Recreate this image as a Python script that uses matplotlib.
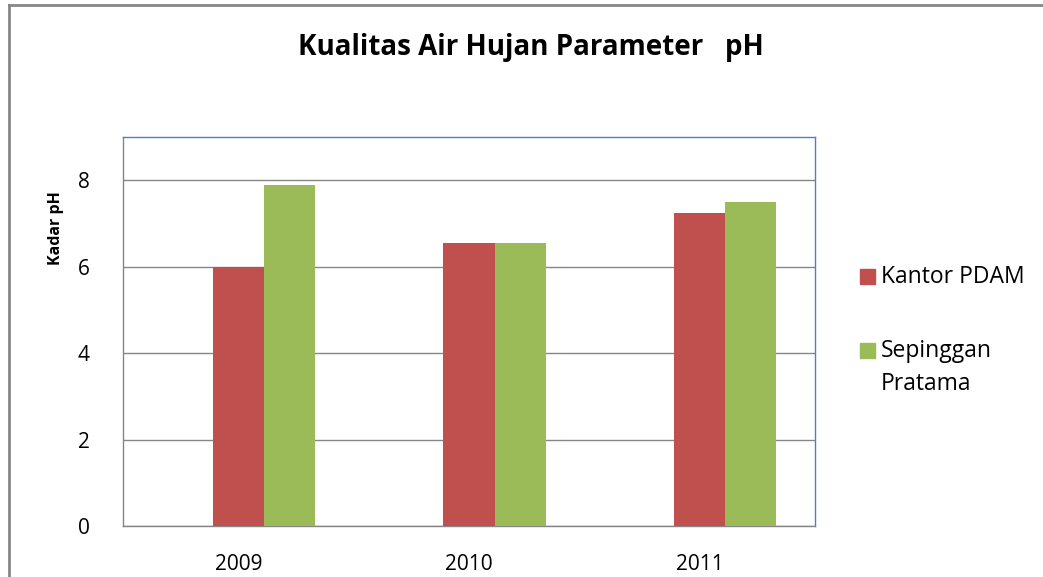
import matplotlib
matplotlib.use("Agg")
import matplotlib.pyplot as plt
from matplotlib.lines import Line2D
from matplotlib.patches import Rectangle
import numpy as np

years = ["2009", "2010", "2011"]
kantor_pdam = [6.0, 6.55, 7.25]
sepinggan = [7.9, 6.55, 7.5]
series_labels = ["Kantor PDAM", "Sepinggan\nPratama"]
yticks = [0, 2, 4, 6, 8]

plt.rcParams['font.family'] = ['Open Sans', 'DejaVu Sans']

W, H = 1043, 577
fig = plt.figure(figsize=(W / 100, H / 100), dpi=100)
ax = fig.add_axes([123 / W, 1 - 526 / H, (815 - 123) / W, (526 - 137) / H])

red = "#C0504D"
green = "#9BBB59"
x = np.arange(len(years))
bw = 0.222
ax.bar(x, kantor_pdam, bw, color=red, label=series_labels[0], zorder=3)
ax.bar(x + bw, sepinggan, bw, color=green, label=series_labels[1], zorder=3)

ax.set_xlim(-0.5, 2.5)
ax.set_ylim(0, 9)
ax.set_yticks(yticks)
ax.set_xticks(x)
ax.set_xticklabels(years)
ax.yaxis.grid(True, color="#868686", linewidth=1, zorder=0)
ax.tick_params(axis='both', length=0, labelsize=15, colors="#000000")
ax.tick_params(axis='x', pad=20.5)
ax.tick_params(axis='y', pad=24)
for s in ['left', 'bottom']:
    ax.spines[s].set_color("#868686")
for s in ['top', 'right']:
    ax.spines[s].set_color("#4F81BD")
for s in ax.spines.values():
    s.set_linewidth(1)

fig.text(531 / W, 1 - 48 / H, "Kualitas Air Hujan Parameter   pH", ha='center', va='center',
         fontsize=20, fontweight='bold')
fig.text(56 / W, 1 - 228 / H, "Kadar pH", rotation=90, ha='center', va='center',
         fontsize=11.5, fontweight='bold')

# legend (manual)
sq = 15
for i, (col, lab, ytop) in enumerate([(red, series_labels[0], 269), (green, series_labels[1], 343)]):
    fig.add_artist(Rectangle((860 / W, 1 - (ytop + sq) / H), sq / W, sq / H,
                             transform=fig.transFigure, color=col))
    fig.text(881 / W, 1 - (ytop - 4) / H, lab, ha='left', va='top', fontsize=16.5,
             linespacing=1.5)

# outer chart border (partially visible)
fig.add_artist(Line2D([8.5 / W, 8.5 / W], [0, 1 - 5 / H], transform=fig.transFigure,
                      color="#868686", linewidth=2))
fig.add_artist(Line2D([8.5 / W, 1], [1 - 5 / H, 1 - 5 / H], transform=fig.transFigure,
                      color="#868686", linewidth=2))

fig.savefig("out.png", dpi=100)
